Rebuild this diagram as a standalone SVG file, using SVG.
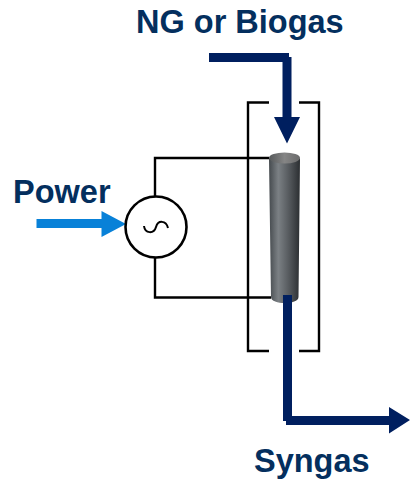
<svg xmlns="http://www.w3.org/2000/svg" width="410" height="481" viewBox="0 0 410 481">
<style>
.l{font-family:"Liberation Sans",Arial,sans-serif;font-weight:700;font-size:32.5px;fill:#042f5e}
.w{fill:none;stroke:#000;stroke-width:2.4}
.f{fill:#001f5f}
</style>
<defs>
<linearGradient id="g" x1="0" x2="1" y1="0" y2="0">
<stop offset="0" stop-color="#454a4e"/><stop offset=".3" stop-color="#7b8084"/><stop offset=".65" stop-color="#55595d"/><stop offset="1" stop-color="#2b2e31"/>
</linearGradient>
<linearGradient id="t" x1="0" x2="1" y1="0" y2="0">
<stop offset="0" stop-color="#55585a"/><stop offset=".5" stop-color="#858585"/><stop offset="1" stop-color="#6a6a6a"/>
</linearGradient>
</defs>
<rect width="410" height="481" fill="#fff"/>
<g id="connectors">
<path class="w" d="M269 158H155V196M155 258V297.500H271"/>
<path class="f" d="M209 53H289V57H291.500V117H300L287 143.500L274 117H282.500V62H209Z"/>
<path class="f" d="M283 295H292V416H389V407L410 420L389 433.500V425H286V421H283Z"/>
<path fill="#0881d8" d="M36.500 219H101.500V211L126 224L101.500 237V228H36.500Z"/>
</g>
<g id="reactor">
<path class="w" d="M269 102.500H248V351H269M299 102.500H319V351H299"/>
<path fill="url(#g)" d="M269 159C269 155 300 155 300 159L298.500 297C298.500 305 271 305 271 297Z"/>
<ellipse cx="284.500" cy="158" rx="15.500" ry="5.500" fill="url(#t)"/>
<path class="f" d="M283 295H292V320H283Z"/>
</g>
<g id="source">
<circle cx="156" cy="227" r="30.500" fill="#fff" stroke="#000" stroke-width="2.600"/>
<path d="M144 226C145 234 154 234 156 227C158 220 166 220 168 228" fill="none" stroke="#000" stroke-width="2"/>
</g>
<text class="l" x="136" y="33">NG or Biogas</text>
<text class="l" x="13" y="203">Power</text>
<text class="l" x="254" y="472">Syngas</text>
</svg>
